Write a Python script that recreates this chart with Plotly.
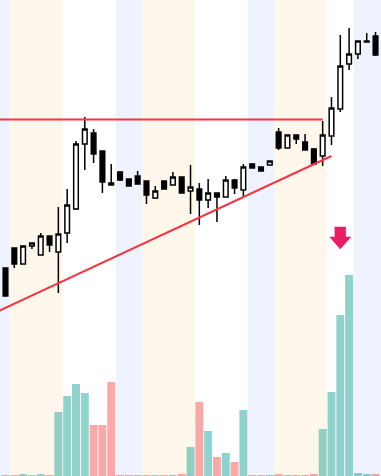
import plotly.graph_objects as go

# ---- data ----
idx = list(range(43))
opens = [120.8, 122.8, 121.2, 123.0, 122.1, 124.0, 122.4, 124.3, 126.7, 133.2,
         134.3, 132.5, 129.3, 130.4, 129.7, 130.0, 129.5, 127.8, 129.5, 129.1,
         129.9, 128.5, 128.7, 127.6, 128.3, 127.9, 129.6, 128.6, 131.2, 130.9,
         131.1, 134.4, 132.8, 134.1, 133.4, 132.7, 132.0, 134.0, 136.7, 141.2,
         142.2, 143.4, 144.0]
highs = [120.8, 122.8, 123.0, 123.3, 124.3, 124.0, 126.9, 128.7, 133.5, 135.9,
         134.7, 132.5, 131.2, 130.5, 129.7, 130.5, 129.5, 129.0, 129.5, 130.4,
         129.9, 131.1, 129.3, 129.7, 128.3, 130.0, 129.7, 131.2, 131.3, 130.9,
         131.5, 134.8, 134.1, 134.1, 134.2, 132.8, 135.5, 137.9, 144.1, 144.8,
         143.5, 144.3, 144.4]
lows = [118.0, 120.8, 121.2, 122.7, 122.1, 122.4, 118.3, 123.3, 126.6, 130.6,
        131.3, 128.3, 129.1, 129.5, 129.0, 129.2, 127.2, 127.8, 128.7, 129.1,
        128.3, 126.2, 125.1, 126.8, 125.4, 127.9, 128.2, 128.0, 130.8, 130.5,
        131.1, 132.6, 132.8, 133.2, 132.6, 131.2, 131.0, 133.1, 136.4, 140.6,
        141.7, 143.4, 142.0]
closes = [118.0, 121.2, 123.0, 123.3, 124.0, 123.1, 124.2, 127.1, 133.2, 134.7,
          132.2, 129.4, 129.1, 129.6, 129.0, 129.2, 128.1, 128.5, 128.7, 129.9,
          128.3, 128.9, 127.6, 128.3, 127.9, 129.6, 128.8, 130.9, 130.8, 130.5,
          131.5, 132.8, 134.1, 133.7, 132.6, 131.2, 134.1, 136.8, 141.0, 142.2,
          143.5, 143.5, 142.1]
volumes = [1000, 1000, 2000, 1000, 2000, 1000, 64000, 80000, 92000, 83000,
           51000, 51000, 94000, 1000, 1000, 1000, 1000, 1000, 1000, 1000,
           2000, 29000, 74000, 45000, 19000, 23000, 14000, 66000, 1000, 1000,
           1000, 2000, 1000, 1000, 1000, 2000, 47000, 84000, 161000, 201000,
           3000, 2000, 2000]

# session bands (start index, end index, session)
band_starts = [-3, 0.5, 6.5, 12.5, 15.5, 21.5, 27.5, 30.5, 36.5, 39.5]
band_ends = [0.5, 6.5, 12.5, 15.5, 21.5, 27.5, 30.5, 36.5, 39.5, 46]
band_sessions = ["asia", "europe", "us", "asia", "europe", "us", "asia", "europe", "us", "asia"]

resistance_level = 135.65
resistance_x = [-2, 36]
trend_x = [-1, 37]
trend_y = [116.4, 132.0]
signal_index = 38
signal_price = 122.7

session_colors = {"asia": "rgba(41,98,255,0.08)", "europe": "rgba(255,152,0,0.08)", "us": "rgba(255,255,255,0)"}

fig = go.Figure()

for s, e, ses in zip(band_starts, band_ends, band_sessions):
    fig.add_shape(type="rect", xref="x", yref="paper", x0=s, x1=e, y0=0, y1=1,
                  fillcolor=session_colors[ses], line_width=0, layer="below")

vol_colors = ["rgba(38,166,154,0.5)" if c >= o else "rgba(239,83,80,0.5)"
              for o, c in zip(opens, closes)]
fig.add_trace(go.Bar(x=idx, y=volumes, marker=dict(color=vol_colors, line_width=0),
                     width=0.9, yaxis="y", hoverinfo="skip"))

fig.add_trace(go.Candlestick(
    x=idx, open=opens, high=highs, low=lows, close=closes, yaxis="y2",
    increasing=dict(line=dict(color="black", width=1.5), fillcolor="white"),
    decreasing=dict(line=dict(color="black", width=1.5), fillcolor="black"),
))

fig.add_trace(go.Scatter(x=resistance_x, y=[resistance_level, resistance_level], mode="lines",
                         line=dict(color="#F23645", width=2), yaxis="y2"))
fig.add_trace(go.Scatter(x=trend_x, y=trend_y, mode="lines",
                         line=dict(color="#F23645", width=2), yaxis="y2"))

# down arrow polygon built from the signal point
hw_shaft, hw_head, head_h, shaft_h = 0.62, 1.2, 1.2, 1.0
ax = [signal_index - hw_shaft, signal_index + hw_shaft, signal_index + hw_shaft,
      signal_index + hw_head, signal_index, signal_index - hw_head,
      signal_index - hw_shaft, signal_index - hw_shaft]
ay = [signal_price + head_h + shaft_h, signal_price + head_h + shaft_h, signal_price + head_h,
      signal_price + head_h, signal_price, signal_price + head_h,
      signal_price + head_h, signal_price + head_h + shaft_h]
fig.add_trace(go.Scatter(x=ax, y=ay, mode="lines", fill="toself", fillcolor="#E91E63",
                         line=dict(color="#E91E63", width=0.5), yaxis="y2"))

fig.update_layout(
    width=381, height=476, margin=dict(l=0, r=0, t=0, b=0),
    showlegend=False, plot_bgcolor="white", paper_bgcolor="white",
    boxgap=0.25,
    xaxis=dict(range=[-0.624, 42.62], visible=False, rangeslider=dict(visible=False)),
    yaxis=dict(range=[0, 476000], visible=False),
    yaxis2=dict(range=[100, 147.6], visible=False, overlaying="y"),
)

fig.write_html("out.html", config={"displayModeBar": False},
               post_script="document.body.style.margin='0';document.body.style.overflow='hidden';")
